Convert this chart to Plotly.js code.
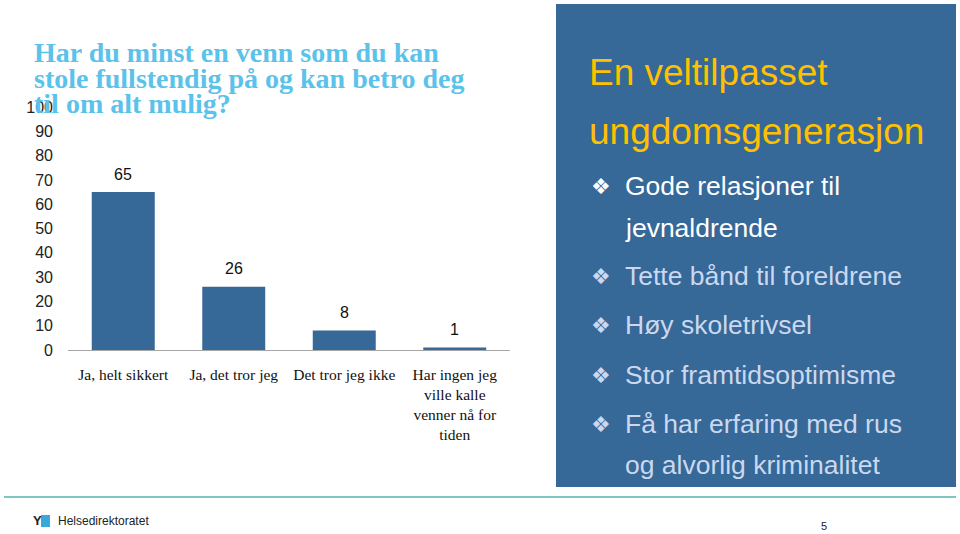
<!DOCTYPE html>
<html><head><meta charset="utf-8">
<script src="https://cdn.plot.ly/plotly-3.0.1.min.js"></script>
<style>html,body{margin:0;padding:0;background:#fff;}#chart{width:960px;height:534px;}</style>
</head><body><div id="chart"></div>
<script>
const categories = ["Ja, helt sikkert", "Ja, det tror jeg", "Det tror jeg ikke", "Har ingen jeg<br>ville kalle<br>venner nå for<br>tiden"];
const values = [65, 26, 8, 1];
const yTicks = [0, 10, 20, 30, 40, 50, 60, 70, 80, 90, 100];
const titleLines = ["Har du minst en venn som du kan", "stole fullstendig på og kan betro deg", "til om alt mulig?"];
const panelHeading = ["En veltilpasset", "ungdomsgenerasjon"];
const panelBullets = [["Gode relasjoner til", "jevnaldrende"], ["Tette bånd til foreldrene"], ["Høy skoletrivsel"], ["Stor framtidsoptimisme"], ["Få har erfaring med rus", "og alvorlig kriminalitet"]];
const footerLogo = "Helsedirektoratet";
const pageNumber = "5";

const L = 68, R = 510, T = 107, B = 350;
const px = x => (x - L) / (R - L);
const py = y => (B - y) / (B - T);

const annotations = [];
const shapes = [];

// value labels
categories.forEach((c, i) => {
  annotations.push({x: c, y: values[i], xref: 'x', yref: 'y', text: String(values[i]), showarrow: false,
    yshift: 18, font: {family: 'Liberation Sans, Arial', size: 16, color: '#111'}});
});
// title
titleLines.forEach((t, i) => {
  annotations.push({x: px(32), y: py(52 + i * 26), xref: 'paper', yref: 'paper', xanchor: 'left', yanchor: 'middle',
    text: '<b>' + t + '</b>', showarrow: false, font: {family: 'Liberation Serif, serif', size: 28, color: '#5BC2EA'}});
});
// right panel
shapes.push({type: 'rect', xref: 'paper', yref: 'paper', x0: px(556), x1: px(956), y0: py(4), y1: py(487),
  fillcolor: '#366898', line: {width: 0}, layer: 'above'});
panelHeading.forEach((t, i) => {
  annotations.push({x: px(587), y: py(72 + i * 59), xref: 'paper', yref: 'paper', xanchor: 'left', yanchor: 'middle',
    text: t, showarrow: false, font: {family: 'Liberation Sans, Arial', size: 37, color: '#FFC000'}});
});
const lineY = [186, 228, 276, 325, 375, 424, 465];
let li = 0;
panelBullets.forEach((b, bi) => {
  const col = bi === 0 ? '#FFFFFF' : '#CBD8EE';
  b.forEach((t, j) => {
    if (j === 0) {
      annotations.push({x: px(601), y: py(lineY[li]), xref: 'paper', yref: 'paper', xanchor: 'center', yanchor: 'middle',
        text: '❖', showarrow: false, font: {family: 'DejaVu Sans', size: 22, color: col}});
    }
    annotations.push({x: px(623), y: py(lineY[li]), xref: 'paper', yref: 'paper', xanchor: 'left', yanchor: 'middle',
      text: t, showarrow: false, font: {family: 'Liberation Sans, Arial', size: 26.5, color: col}});
    li++;
  });
});
// footer
shapes.push({type: 'line', xref: 'paper', yref: 'paper', x0: px(4), x1: px(956), y0: py(497), y1: py(497),
  line: {color: '#7EC6C2', width: 2}});
shapes.push({type: 'rect', xref: 'paper', yref: 'paper', x0: px(41), x1: px(50), y0: py(515), y1: py(527),
  fillcolor: '#39A9DC', line: {width: 0}});
annotations.push({x: px(37), y: py(520), xref: 'paper', yref: 'paper', xanchor: 'center', yanchor: 'middle',
  text: '<b>Y</b>', showarrow: false, font: {family: 'Liberation Sans, Arial', size: 13, color: '#222'}});
annotations.push({x: px(56), y: py(521), xref: 'paper', yref: 'paper', xanchor: 'left', yanchor: 'middle',
  text: footerLogo, showarrow: false, font: {family: 'Liberation Sans Narrow, Liberation Sans, Arial', size: 12, color: '#222'}});
annotations.push({x: px(824), y: py(526), xref: 'paper', yref: 'paper', xanchor: 'center', yanchor: 'middle',
  text: pageNumber, showarrow: false, font: {family: 'Liberation Sans Narrow, Liberation Sans, Arial', size: 11, color: '#222'}});

const data = [{type: 'bar', x: categories, y: values, marker: {color: '#366898'}, width: 0.57, hoverinfo: 'none'}];
const layout = {
  width: 960, height: 534, margin: {l: L, r: 960 - R, t: T, b: 534 - B, pad: 0},
  paper_bgcolor: '#fff', plot_bgcolor: '#fff', showlegend: false,
  xaxis: {type: 'category', showline: true, linecolor: '#A6A6A6', linewidth: 1, showgrid: false, zeroline: false,
    ticks: '', ticklabelstandoff: 10, tickangle: 0,
    tickfont: {family: 'Liberation Serif, serif', size: 15.5, color: '#111'}},
  yaxis: {range: [0, 100], tickvals: yTicks, showgrid: false, zeroline: false, showline: false, ticks: '',
    ticklabelstandoff: 14, tickfont: {family: 'Liberation Sans, Arial', size: 16, color: '#222'}},
  annotations: annotations, shapes: shapes
};
Plotly.newPlot('chart', data, layout, {displayModeBar: false, staticPlot: true});
</script></body></html>
